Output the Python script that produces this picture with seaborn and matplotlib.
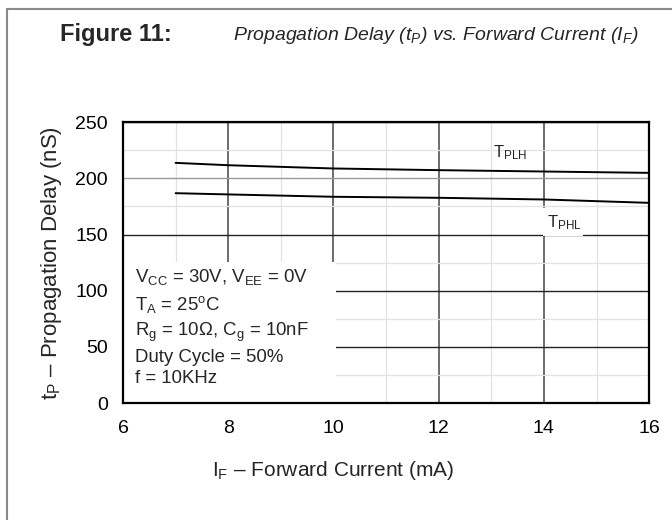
import pandas as pd
import matplotlib.pyplot as plt
import seaborn as sns
from matplotlib.patches import Rectangle
from matplotlib.lines import Line2D

# ---------------------------------
# Data
# ---------------------------------

forward_current = [7, 8, 10, 12, 14, 16]
t_plh = [213.8, 211.7, 208.8, 207.3, 206.1, 204.9]
t_phl = [186.8, 185.7, 183.6, 182.7, 181.2, 178.2]

x_ticks = [6, 8, 10, 12, 14, 16]
y_ticks = [0, 50, 100, 150, 200, 250]

conditions = [
    r"V$_{\mathrm{CC}}$ = 30V, V$_{\mathrm{EE}}$ = 0V",
    r"T$_{\mathrm{A}}$ = 25$^{\mathrm{o}}$C",
    r"R$_{\mathrm{g}}$ = 10Ω, C$_{\mathrm{g}}$ = 10nF",
    "Duty Cycle = 50%",
    "f = 10KHz",
]

df = pd.DataFrame({
    "If": forward_current * 2,
    "tp": t_plh + t_phl,
    "curve": ["TPLH"] * len(t_plh) + ["TPHL"] * len(t_phl),
})

# ---------------------------------
# Style
# ---------------------------------

sns.set_theme(style="white")
plt.rcParams["font.family"] = ["Liberation Sans", "DejaVu Sans"]
plt.rcParams["mathtext.fontset"] = "custom"
plt.rcParams["mathtext.rm"] = "Liberation Sans"
plt.rcParams["mathtext.it"] = "Liberation Sans:italic"
plt.rcParams["mathtext.bf"] = "Liberation Sans:bold"

fig = plt.figure(figsize=(6.72, 5.2), dpi=100)
ax = fig.add_axes([0.183, 0.225, 0.783, 0.540])

# ---------------------------------
# Curves
# ---------------------------------

sns.lineplot(
    data=df,
    x="If",
    y="tp",
    units="curve",
    estimator=None,
    color="black",
    linewidth=1.4,
    ax=ax,
    zorder=3,
)

ax.set_xlim(6, 16)
ax.set_ylim(0, 250)
ax.set_xticks(x_ticks)
ax.set_yticks(y_ticks)
ax.set_xticks([7, 9, 11, 13, 15], minor=True)
ax.set_yticks([25, 75, 125, 175, 225], minor=True)

ax.grid(which="major", axis="x", color="#444444", linewidth=1.1)
ax.grid(which="major", axis="y", color="#222222", linewidth=1.0)
ax.grid(which="minor", color="#e2e2e2", linewidth=0.9)
for val, gl in zip(y_ticks, ax.get_ygridlines()):
    if val == 200:
        gl.set_color("#9a9a9a")

for sp in ax.spines.values():
    sp.set_color("black")
    sp.set_linewidth(1.6)

ax.tick_params(which="both", length=0, labelsize=14, colors="black")
ax.tick_params(axis="x", pad=12.5)
ax.tick_params(axis="y", pad=11)

ax.set_xlabel("")
ax.set_ylabel(r"t$_{\mathrm{P}}$ – Propagation Delay (nS)", fontsize=16,
              labelpad=8)

# ---------------------------------
# Condition box and curve labels
# ---------------------------------

ax.add_patch(Rectangle((6.02, 0.8), 4.03, 124.5, facecolor="white",
                       edgecolor="none", zorder=2.5))

line_y = [107.7, 82.7, 59.6, 36.5, 17.8]
for txt, yy in zip(conditions, line_y):
    ax.text(6.22, yy, txt, fontsize=13.4, va="baseline", ha="left",
            zorder=4)

ax.text(13.03, 219, r"T$_{\mathrm{PLH}}$", fontsize=12, ha="left",
        va="baseline", zorder=4)

ax.add_patch(Rectangle((13.98, 148.6), 0.76, 25, facecolor="white",
                       edgecolor="none", zorder=2.5))
ax.text(14.06, 156.6, r"T$_{\mathrm{PHL}}$", fontsize=12, ha="left",
        va="baseline", zorder=4)

# ---------------------------------
# Titles and frame
# ---------------------------------

fig.text(60 / 672, 1 - 35 / 520, "Figure 11:", fontsize=17,
         fontweight="bold", va="center", ha="left")
fig.text(638 / 672, 1 - 35 / 520,
         r"Propagation Delay (t$_{P}$) vs. Forward Current (I$_{F}$)",
         fontsize=14, style="italic", va="center", ha="right")

fig.text(333 / 672, 1 - 471 / 520,
         r"I$_{\mathrm{F}}$ – Forward Current (mA)",
         fontsize=15, va="center", ha="center")

fig.add_artist(Line2D([7 / 672, 7 / 672], [0, 1 - 9 / 520],
                      color="#8a8a8a", linewidth=1.5))
fig.add_artist(Line2D([7 / 672, 1], [1 - 9 / 520, 1 - 9 / 520],
                      color="#8a8a8a", linewidth=1.5))

fig.savefig("out.png", dpi=100)
